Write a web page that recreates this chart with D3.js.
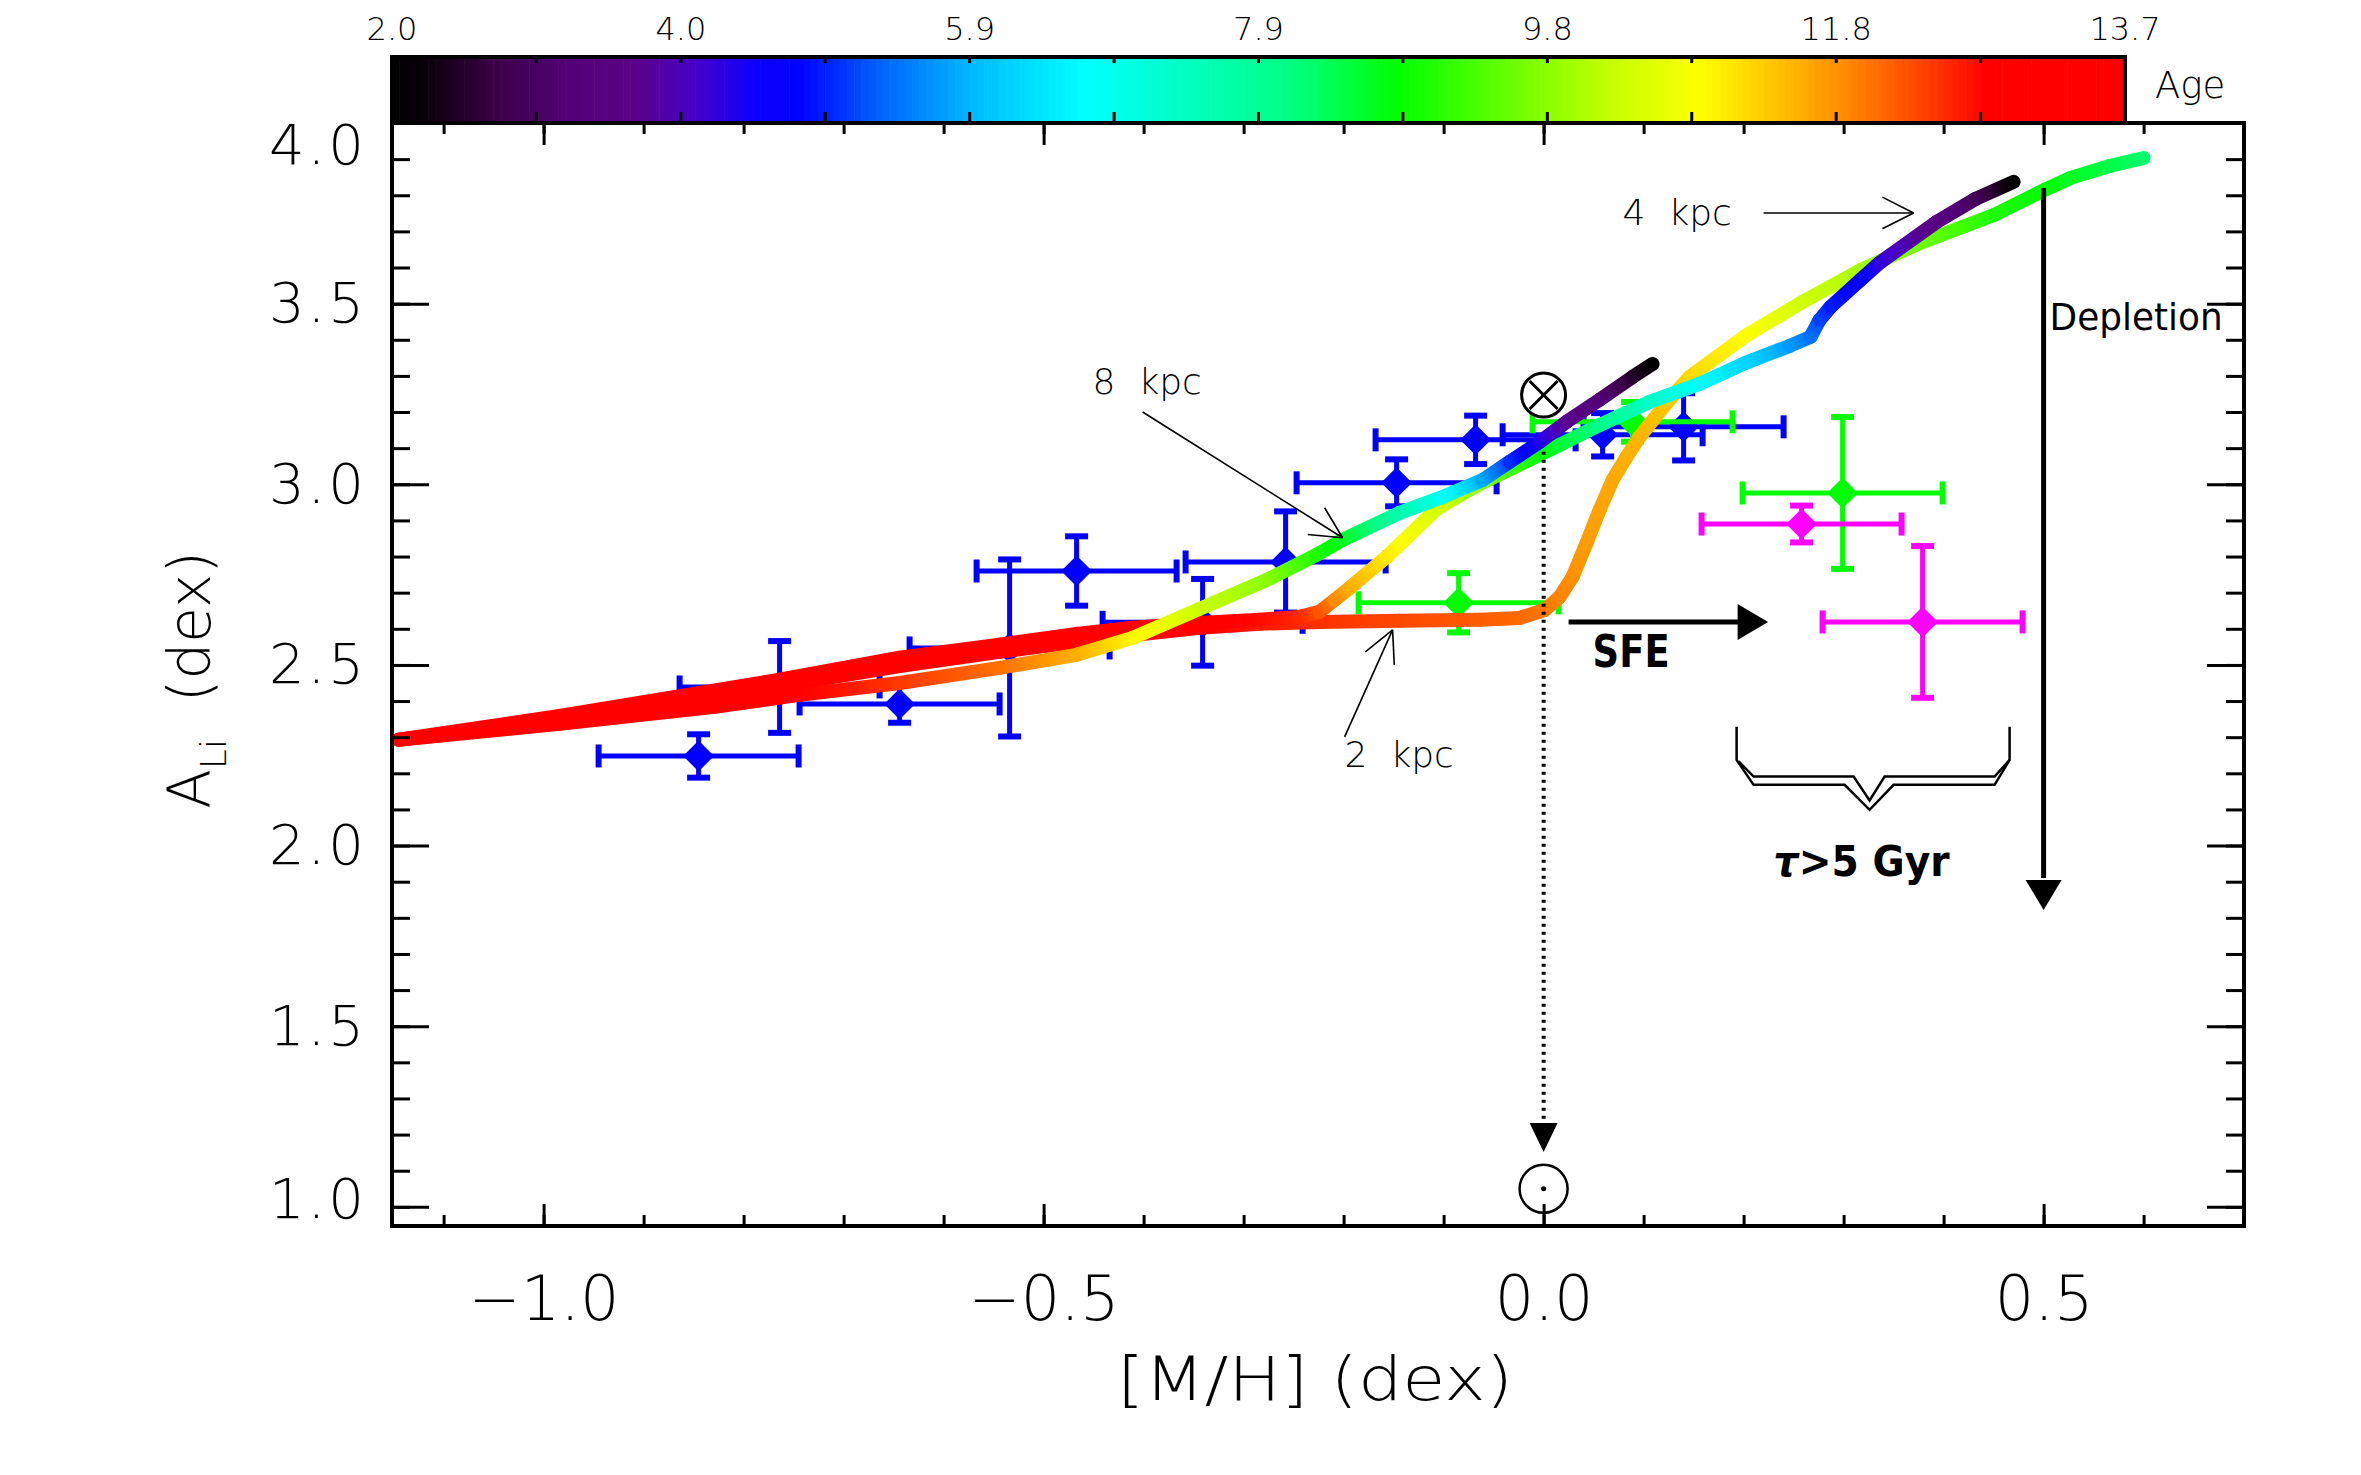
<!DOCTYPE html>
<html>
<head>
<meta charset="utf-8">
<script src="https://d3js.org/d3.v7.min.js"></script>
<style>
  body { margin: 0; background: #fff; overflow: hidden; }
  svg { display: block; }
  svg text { font-family: "DejaVu Sans", sans-serif; fill: #000; }
  svg text.thin { font-family: "DejaVu Sans ExtraLight", "DejaVu Sans", sans-serif; font-weight: 200; }
</style>
</head>
<body>
<div id="chart"></div>
<script>
// model tracks: [M/H], A(Li), age of the stars (Gyr)
var track2kpc = [
  [-1.145, 2.293, 13.7], [-0.984, 2.348, 13.6], [-0.764, 2.442, 13.5], [-0.644, 2.497, 13.4],
  [-0.544, 2.536, 13.3], [-0.467, 2.564, 13.2], [-0.411, 2.583, 13.1], [-0.344, 2.603, 12.8],
  [-0.284, 2.614, 12.6], [-0.224, 2.619, 12.45], [-0.144, 2.622, 12.3], [-0.064, 2.625, 12.15],
  [-0.024, 2.630, 12.05], [0.001, 2.652, 11.95], [0.016, 2.688, 11.85], [0.029, 2.744, 11.75],
  [0.043, 2.838, 11.65], [0.056, 2.929, 11.6], [0.069, 3.012, 11.55], [0.083, 3.076, 11.5],
  [0.096, 3.131, 11.45], [0.123, 3.225, 11.3], [0.146, 3.297, 11.15], [0.202, 3.411, 10.85],
  [0.259, 3.505, 10.35], [0.317, 3.593, 10.0], [0.374, 3.665, 9.6], [0.451, 3.746, 9.0],
  [0.501, 3.815, 8.8], [0.527, 3.848, 8.6], [0.566, 3.881, 8.4], [0.600, 3.903, 8.2]
];
var track4kpc = [
  [-1.145, 2.293, 13.7], [-0.984, 2.359, 13.6], [-0.764, 2.459, 13.5], [-0.644, 2.520, 13.4],
  [-0.544, 2.556, 13.3], [-0.467, 2.586, 13.2], [-0.411, 2.603, 13.1], [-0.344, 2.616, 12.9],
  [-0.284, 2.625, 12.7], [-0.244, 2.633, 12.5], [-0.224, 2.647, 12.2], [-0.209, 2.680, 11.8],
  [-0.194, 2.713, 11.5], [-0.157, 2.799, 11.0], [-0.107, 2.932, 10.4], [-0.064, 3.001, 9.8],
  [-0.031, 3.045, 9.2], [0.016, 3.109, 8.5], [0.056, 3.164, 8.0], [0.106, 3.228, 7.3],
  [0.156, 3.278, 6.7], [0.202, 3.336, 6.2], [0.246, 3.383, 5.7], [0.267, 3.408, 5.4],
  [0.276, 3.455, 5.1], [0.287, 3.491, 4.9], [0.317, 3.566, 4.6], [0.336, 3.613, 4.2],
  [0.393, 3.726, 3.5], [0.432, 3.790, 2.9], [0.470, 3.837, 2.0]
];
var track8kpc = [
  [-1.145, 2.293, 13.7], [-0.984, 2.337, 13.6], [-0.829, 2.384, 13.35], [-0.744, 2.417, 12.8],
  [-0.644, 2.450, 12.4], [-0.544, 2.492, 12.0], [-0.467, 2.528, 11.5], [-0.411, 2.575, 10.9],
  [-0.344, 2.655, 10.3], [-0.277, 2.735, 9.8], [-0.227, 2.805, 9.0], [-0.201, 2.846, 8.6],
  [-0.144, 2.921, 7.6], [-0.101, 2.965, 6.8], [-0.061, 3.012, 5.8], [-0.034, 3.062, 5.0],
  [-0.004, 3.117, 4.3], [0.023, 3.173, 3.7], [0.056, 3.234, 3.2], [0.089, 3.297, 2.5],
  [0.109, 3.333, 2.0]
];

// observed clusters
var blueMH    = [-0.845, -0.764, -0.644, -0.534, -0.467, -0.341, -0.258, -0.147, -0.068, 0.059, 0.140];
var blueALi   = [2.248, 2.439, 2.392, 2.547, 2.760, 2.618, 2.785, 3.004, 3.123, 3.137, 3.159];
var blueErrMH = [0.1, 0.1, 0.1, 0.1, 0.1, 0.1, 0.1, 0.1, 0.1, 0.1, 0.1];
var blueErrLi = [0.06, 0.127, 0.052, 0.245, 0.096, 0.12, 0.14, 0.065, 0.067, 0.06, 0.093];

var greenMH    = [-0.085, 0.089, 0.299];
var greenALi   = [2.672, 3.173, 2.976];
var greenErrMH = [0.1, 0.1, 0.1];
var greenErrLi = [0.082, 0.055, 0.21];

var pinkMH    = [0.258, 0.379];
var pinkALi   = [2.890, 2.619];
var pinkErrMH = [0.1, 0.1];
var pinkErrLi = [0.051, 0.21];

// axes
var xMajor = [-1.0, -0.5, 0.0, 0.5];
var yMajor = [1.0, 1.5, 2.0, 2.5, 3.0, 3.5, 4.0];
var cbValues = [2.0, 3.95, 5.9, 7.85, 9.8, 11.75, 13.7];
var cbLabels = ["2.0", "4.0", "5.9", "7.9", "9.8", "11.8", "13.7"];

// age colour table (rainbow)
var ageColorPos = [0, 0.02, 0.06, 0.10, 0.14, 0.175, 0.21, 0.235, 0.28, 0.34, 0.40, 0.46, 0.52, 0.58, 0.66, 0.70, 0.755, 0.80, 0.845, 0.885, 0.92, 1.0];
var ageColorHex = ["#000000", "#0a000a", "#3c0048", "#520075", "#5a0088", "#4800c8", "#0a00ff", "#0000ff", "#0060ff", "#00c0ff", "#00ffff",
                   "#00ffc0", "#00ff80", "#00ff00", "#80ff00", "#c0ff00", "#ffff00", "#ffc000", "#ff8000", "#ff4000", "#ff0000", "#ff0000"];
var ageMin = 2.0, ageMax = 13.7;

var width = 2361, height = 1475;

var svg = d3.select("#chart").append("svg")
  .attr("width", width)
  .attr("height", height);
var defs = svg.append("defs");

var x = d3.scaleLinear().domain([-1.1516, 0.7004]).range([392, 2244]);
var y = d3.scaleLinear().domain([0.947, 4.0]).range([1226, 123]);
var ageColor = d3.scaleLinear()
  .domain(ageColorPos.map(function(t) { return ageMin + t * (ageMax - ageMin); }))
  .range(ageColorHex)
  .clamp(true);

// ---- colour bar ----
var cb = d3.scaleLinear().domain([ageMin, ageMax]).range([392, 2125]);
var nBands = 240;
svg.append("g").selectAll("rect")
  .data(d3.range(nBands))
  .enter().append("rect")
    .attr("x", function(i) { return cb(ageMin + i * (ageMax - ageMin) / nBands); })
    .attr("width", (cb(ageMax) - cb(ageMin)) / nBands + 0.6)
    .attr("y", 57)
    .attr("height", 66)
    .attr("fill", function(i) { return ageColor(ageMin + (i + 0.5) * (ageMax - ageMin) / nBands); });
svg.append("rect")
  .attr("x", 392).attr("y", 57).attr("width", cb(ageMax) - 392).attr("height", 66)
  .attr("fill", "none").attr("stroke", "#000").attr("stroke-width", 4);
var cbTicks = d3.range(1, 12).map(function(i) { return ageMin + i * (ageMax - ageMin) / 12; });
var cbt = svg.append("g").attr("stroke", "#000").attr("stroke-width", 3);
cbTicks.forEach(function(v) {
  cbt.append("line").attr("x1", cb(v)).attr("x2", cb(v)).attr("y1", 57).attr("y2", 63);
  cbt.append("line").attr("x1", cb(v)).attr("x2", cb(v)).attr("y1", 123).attr("y2", 112);
});
svg.append("g").selectAll("text")
  .data(cbValues)
  .enter().append("text")
    .attr("class", "thin")
    .attr("x", function(d) { return cb(d); })
    .attr("y", 40)
    .attr("text-anchor", "middle")
    .style("font-size", "32px")
    .text(function(d, i) { return cbLabels[i]; });
svg.append("text")
  .attr("class", "thin")
  .attr("x", 2155).attr("y", 98)
  .style("font-size", "37px")
  .text("Age");

// ---- data points ----
function drawPoints(mh, ali, emh, eli, color) {
  var g = svg.append("g").attr("stroke", color).attr("fill", color);
  mh.forEach(function(m, i) {
    var cx = x(m), cy = y(ali[i]);
    var x0 = x(m - emh[i]), x1 = x(m + emh[i]);
    var y0 = y(ali[i] - eli[i]), y1 = y(ali[i] + eli[i]);
    g.append("line").attr("x1", x0).attr("x2", x1).attr("y1", cy).attr("y2", cy).attr("stroke-width", 5);
    g.append("line").attr("x1", cx).attr("x2", cx).attr("y1", y0).attr("y2", y1).attr("stroke-width", 5);
    [x0, x1].forEach(function(xx) {
      g.append("line").attr("x1", xx).attr("x2", xx).attr("y1", cy - 11.5).attr("y2", cy + 11.5).attr("stroke-width", 6);
    });
    [y0, y1].forEach(function(yy) {
      g.append("line").attr("x1", cx - 11.5).attr("x2", cx + 11.5).attr("y1", yy).attr("y2", yy).attr("stroke-width", 6);
    });
    g.append("path")
      .attr("d", d3.symbol(d3.symbolSquare, 480)())
      .attr("stroke", "none")
      .attr("transform", "translate(" + cx + "," + cy + ") rotate(45)");
  });
}
drawPoints(blueMH, blueALi, blueErrMH, blueErrLi, "#0000ff");
drawPoints(greenMH, greenALi, greenErrMH, greenErrLi, "#00ff00");
drawPoints(pinkMH, pinkALi, pinkErrMH, pinkErrLi, "#ff00ff");

// ---- model tracks, coloured by age ----
function drawTrack(track, id) {
  var g = svg.append("g");
  for (var i = 0; i < track.length - 1; i++) {
    var a = track[i], b = track[i + 1];
    var grad = defs.append("linearGradient")
      .attr("id", id + i)
      .attr("gradientUnits", "userSpaceOnUse")
      .attr("x1", x(a[0])).attr("y1", y(a[1]))
      .attr("x2", x(b[0])).attr("y2", y(b[1]));
    [0, 0.25, 0.5, 0.75, 1].forEach(function(f) {
      grad.append("stop").attr("offset", f).attr("stop-color", ageColor(a[2] + f * (b[2] - a[2])));
    });
    g.append("line")
      .attr("x1", x(a[0])).attr("y1", y(a[1]))
      .attr("x2", x(b[0])).attr("y2", y(b[1]))
      .attr("stroke", "url(#" + id + i + ")")
      .attr("stroke-width", 14)
      .attr("stroke-linecap", "round");
  }
}
drawTrack(track2kpc, "t2_");
drawTrack(track4kpc, "t4_");
drawTrack(track8kpc, "t8_");

// ---- frame and axes ----
svg.append("rect")
  .attr("x", 392).attr("y", 123).attr("width", 2244 - 392).attr("height", 1226 - 123)
  .attr("fill", "none").attr("stroke", "#000").attr("stroke-width", 4);

var xMinor = d3.range(-11, 8).map(function(i) { return i / 10; }).filter(function(v) { return v > -1.15 && v < 0.7; });
var yMinor = d3.range(10, 41).map(function(i) { return i / 10; });

function styleAxis(sel) {
  sel.select(".domain").remove();
  sel.selectAll(".tick line").attr("stroke-width", 3);
  sel.selectAll("text").attr("class", "thin").attr("fill", "#000")
    .attr("font-family", null);
}

svg.append("g").attr("transform", "translate(0,1226)")
  .call(d3.axisBottom(x).tickValues(xMinor).tickSize(-11).tickFormat(""))
  .call(styleAxis);
svg.append("g").attr("transform", "translate(0,1226)")
  .call(d3.axisBottom(x).tickValues(xMajor).tickSize(-22).tickPadding(50)
    .tickFormat(function(d) { return d3.format(".1f")(d).replace("-", "\u2212"); }))
  .call(styleAxis)
  .selectAll("text").style("font-size", "62px");
svg.append("g").attr("transform", "translate(0,123)")
  .call(d3.axisTop(x).tickValues(xMinor).tickSize(-11).tickFormat(""))
  .call(styleAxis);
svg.append("g").attr("transform", "translate(0,123)")
  .call(d3.axisTop(x).tickValues(xMajor).tickSize(-22).tickFormat(""))
  .call(styleAxis);

svg.append("g").attr("transform", "translate(392,0)")
  .call(d3.axisLeft(y).tickValues(yMinor).tickSize(-18).tickFormat(""))
  .call(styleAxis);
svg.append("g").attr("transform", "translate(392,0)")
  .call(d3.axisLeft(y).tickValues(yMajor).tickSize(-37).tickPadding(25).tickFormat(d3.format(".1f")))
  .call(styleAxis)
  .selectAll("text")
    .style("font-size", "56px")
    .style("letter-spacing", "3px")
    .attr("y", function(d) { return d === 4 ? 23 : (d === 1 ? -7 : 0); });
svg.append("g").attr("transform", "translate(2244,0)")
  .call(d3.axisRight(y).tickValues(yMinor).tickSize(-18).tickFormat(""))
  .call(styleAxis);
svg.append("g").attr("transform", "translate(2244,0)")
  .call(d3.axisRight(y).tickValues(yMajor).tickSize(-37).tickFormat(""))
  .call(styleAxis);

svg.append("text")
  .attr("class", "thin")
  .attr("x", 1315).attr("y", 1400)
  .attr("text-anchor", "middle")
  .attr("textLength", 396).attr("lengthAdjust", "spacingAndGlyphs")
  .style("font-size", "60px")
  .text("[M/H] (dex)");

var yt = svg.append("text")
  .attr("class", "thin")
  .attr("transform", "translate(210,680) rotate(-90)")
  .attr("text-anchor", "middle")
  .style("font-size", "58px");
yt.append("tspan").text("A");
yt.append("tspan").attr("dy", 16).style("font-size", "36px").text("Li");
yt.append("tspan").attr("dy", -16).style("white-space", "pre").text("  (dex)");

// ---- annotations ----
var ann = svg.append("g");

function openHead(g, x0, y0, x1, y1, len, ang) {
  var a = Math.atan2(y1 - y0, x1 - x0);
  [-ang, ang].forEach(function(da) {
    g.append("line")
      .attr("x1", x1).attr("y1", y1)
      .attr("x2", x1 - len * Math.cos(a + da)).attr("y2", y1 - len * Math.sin(a + da));
  });
}
function kpcArrow(from, to) {
  var g = ann.append("g").attr("stroke", "#000").attr("stroke-width", 1.6);
  var x0 = x(from[0]), y0 = y(from[1]), x1 = x(to[0]), y1 = y(to[1]);
  g.append("line").attr("x1", x0).attr("y1", y0).attr("x2", x1).attr("y2", y1);
  openHead(g, x0, y0, x1, y1, 35, 0.47);
}
kpcArrow([-0.401, 3.200], [-0.201, 2.852]);
kpcArrow([0.220, 3.751], [0.370, 3.751]);
kpcArrow([-0.199, 2.301], [-0.151, 2.597]);

[["8  kpc", -0.451, 3.250], ["4  kpc", 0.079, 3.718], ["2  kpc", -0.199, 2.218]].forEach(function(t) {
  ann.append("text")
    .attr("class", "thin")
    .attr("x", x(t[1])).attr("y", y(t[2]))
    .style("font-size", "36px")
    .style("white-space", "pre")
    .text(t[0]);
});

// solar marks and dotted drop line
var sx = x(0);
ann.append("line")
  .attr("x1", sx).attr("x2", sx).attr("y1", y(3.09)).attr("y2", y(1.232))
  .attr("stroke", "#000").attr("stroke-width", 4).attr("stroke-dasharray", "3,5");
ann.append("path")
  .attr("d", "M" + (sx - 14) + "," + y(1.232) + "L" + (sx + 14) + "," + y(1.232) + "L" + sx + "," + y(1.152) + "Z")
  .attr("fill", "#000");
var ot = ann.append("g").attr("stroke", "#000").attr("fill", "none").attr("stroke-width", 3);
var oy = y(3.247);
ot.append("circle").attr("cx", sx).attr("cy", oy).attr("r", 22).attr("fill", "#fff");
ot.append("line").attr("x1", sx - 14).attr("y1", oy - 14).attr("x2", sx + 14).attr("y2", oy + 14);
ot.append("line").attr("x1", sx - 14).attr("y1", oy + 14).attr("x2", sx + 14).attr("y2", oy - 14);
var sunY = y(1.05);
ann.append("circle").attr("cx", sx).attr("cy", sunY).attr("r", 24)
  .attr("fill", "none").attr("stroke", "#000").attr("stroke-width", 2.5);
ann.append("circle").attr("cx", sx).attr("cy", sunY).attr("r", 2.5).attr("fill", "#000");

// SFE arrow
var sfeY = y(2.619);
ann.append("line").attr("x1", x(0.025)).attr("x2", x(0.196)).attr("y1", sfeY).attr("y2", sfeY)
  .attr("stroke", "#000").attr("stroke-width", 5);
ann.append("path")
  .attr("d", "M" + x(0.194) + "," + (sfeY - 18) + "L" + x(0.2245) + "," + sfeY + "L" + x(0.194) + "," + (sfeY + 18) + "Z")
  .attr("fill", "#000");
ann.append("text")
  .attr("x", x(0.049)).attr("y", y(2.495))
  .attr("textLength", 77).attr("lengthAdjust", "spacingAndGlyphs")
  .style("font-size", "44px").style("font-weight", "bold")
  .text("SFE");

// depletion arrow
var dx = x(0.5);
ann.append("line").attr("x1", dx).attr("x2", dx).attr("y1", y(3.82)).attr("y2", y(1.91))
  .attr("stroke", "#000").attr("stroke-width", 5);
ann.append("path")
  .attr("d", "M" + (dx - 18) + "," + y(1.905) + "L" + dx + "," + y(1.822) + "L" + (dx + 18) + "," + y(1.905) + "Z")
  .attr("fill", "#000");
ann.append("text")
  .attr("x", x(0.506)).attr("y", y(3.427))
  .attr("textLength", 173).attr("lengthAdjust", "spacingAndGlyphs")
  .style("font-size", "38px")
  .text("Depletion");

// brace over the old metal-rich clusters
var braceOuter = [[0.193, 2.329], [0.193, 2.237], [0.210, 2.168], [0.301, 2.168], [0.326, 2.099],
                  [0.350, 2.168], [0.451, 2.168], [0.466, 2.237], [0.466, 2.329]];
var braceInner = [[0.195, 2.233], [0.210, 2.191], [0.310, 2.191], [0.326, 2.125], [0.341, 2.191],
                  [0.451, 2.191], [0.466, 2.237]];
var braceLine = d3.line().x(function(d) { return x(d[0]); }).y(function(d) { return y(d[1]); });
[braceOuter, braceInner].forEach(function(b) {
  ann.append("path").attr("d", braceLine(b))
    .attr("fill", "none").attr("stroke", "#000").attr("stroke-width", 2.5);
});
var tau = ann.append("text")
  .attr("x", x(0.230)).attr("y", y(1.916))
  .attr("textLength", 176).attr("lengthAdjust", "spacingAndGlyphs")
  .style("font-size", "42px").style("font-weight", "bold");
tau.append("tspan").style("font-style", "italic").text("\u03c4");
tau.append("tspan").style("white-space", "pre").text(">5 Gyr");
</script>
</body>
</html>
